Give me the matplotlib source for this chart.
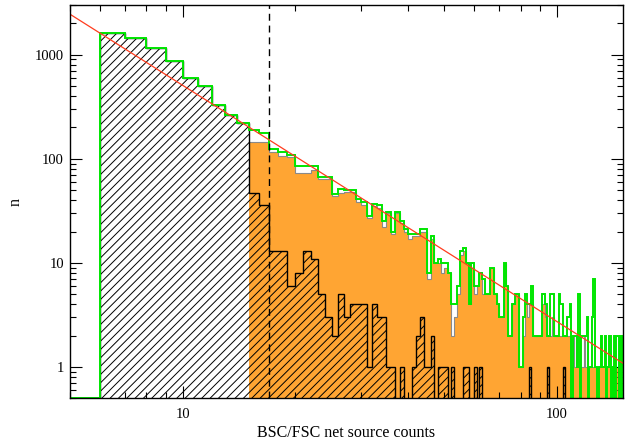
import numpy as np
import matplotlib
matplotlib.use('Agg')
import matplotlib.pyplot as plt
from matplotlib.ticker import FixedLocator, FixedFormatter, LogLocator, NullFormatter

plt.rcParams['font.family'] = ['Liberation Serif', 'DejaVu Serif']
plt.rcParams['hatch.linewidth'] = 0.7
plt.rcParams['hatch.color'] = 'black'

# ---------------- data (integer-width bins of net source counts) ----------------
total_first_bin = 5
total_counts = [
    0,
    1600, 1430, 1170, 860, 600, 500, 330, 261, 222,
    190, 177, 125, 116, 108, 85, 85, 85, 67, 67,
    46, 51, 50, 50, 41, 38, 28, 37, 36, 25,
    31, 20, 31, 25, 21, 19, 19, 19, 21, 21,
    8, 18, 10, 11, 10, 10, 8, 4, 4, 6,
    13, 14, 10, 4, 10, 6, 6, 8, 7, 5,
    5, 9, 9, 5, 4, 3, 3, 10, 6, 2,
    2, 4, 5, 5, 1, 1, 3, 5, 4, 4,
    6, 2, 2, 2, 2, 2, 5, 5, 4, 2,
    2, 5, 5, 2, 2, 2, 5, 4, 4, 2,
    2, 3, 3, 4, 0, 2, 2, 2, 1, 5,
    0, 2, 2, 2, 2, 3, 0, 1, 1, 3,
    7, 1, 1, 0, 1, 1, 2, 1, 1, 2,
    0, 1, 1, 2, 0, 1, 0, 2, 0, 2,
    2, 0, 2, 0, 2, 1,
]

orange_first_bin = 15
orange_counts = [
    145, 145, 115, 106, 104, 73, 73, 78, 64, 64,
    44, 47, 48, 48, 38, 36, 27, 35, 34, 22,
    30, 19, 30, 24, 20, 17, 18, 18, 20, 20,
    7, 17, 10, 10, 8, 9, 8, 2, 3, 5,
    12, 13, 10, 4, 9, 5, 6, 8, 5, 5,
    5, 9, 9, 5, 4, 3, 3, 10, 6, 2,
    2, 4, 5, 5, 1, 1, 2, 4, 3, 4,
    4, 2, 2, 2, 2, 2, 4, 4, 3, 2,
    2, 2, 3, 2, 2, 2, 2, 2, 2, 2,
    2, 2, 2, 2, 1, 2, 1, 2, 1, 1,
    1, 1, 1, 2, 1, 1, 1, 1, 1, 1,
    1, 1, 1, 1, 1, 1, 1, 1, 1, 1,
    1, 1, 1, 1, 1, 1, 1, 1, 1, 1,
    0, 0, 0, 0, 0, 0,
]

hatch_first_bin = 6
hatch_counts = [
    1600, 1430, 1170, 860, 600, 500, 330, 261, 222,
    47, 36, 13, 13, 6, 8, 13, 11, 5, 3,
    2, 5, 3, 4, 4, 4, 1, 4, 3, 3,
    1, 1, 0, 1, 0, 0, 1, 2, 3, 1,
    1, 2, 0, 1, 1, 1, 0, 1, 0, 0,
    0, 1, 1, 0, 0, 1, 0, 1, 0, 0,
    0, 0, 0, 0, 0, 0, 0, 0, 0, 0,
    0, 0, 0, 0, 0, 0, 0, 0, 0, 1,
    0, 0, 0, 0, 0, 0, 0, 0, 0, 1,
    0, 0, 0, 0, 0, 0, 0, 0, 0, 1,
]

fit_norm = 2445.0      # power law value at fit_x0
fit_x0 = 5.0
fit_index = -2.27
cut_value = 17.0

x_limits = (5, 150)
y_limits = (0.5, 3000)
x_major = [10, 100]
x_major_labels = ['10', '100']
y_major = [1, 10, 100, 1000]
y_major_labels = ['1', '10', '100', '1000']
x_label = 'BSC/FSC net source counts'
y_label = 'n'

# ---------------- figure ----------------
fig = plt.figure(figsize=(6.28, 4.40), dpi=100)
ax = fig.add_axes([0.1115, 0.0948, 0.8806, 0.8939])
ax.set_xscale('log')
ax.set_yscale('log')

floor = 1e-3


def bin_edges(first, n):
    return np.arange(first, first + n + 1, dtype=float)


orange = np.array(orange_counts, dtype=float)
orange_plot = np.where(orange > 0, orange, floor)
e_or = bin_edges(orange_first_bin, len(orange))
ax.stairs(orange_plot, e_or, fill=True, facecolor='#ffa533', edgecolor='none',
          baseline=floor, zorder=1)
ax.stairs(orange_plot, e_or, baseline=None, color='#8a8a8a', lw=0.8, zorder=1.5)

hatch = np.array(hatch_counts, dtype=float)
hatch_plot = np.where(hatch > 0, hatch, floor)
ax.stairs(hatch_plot, bin_edges(hatch_first_bin, len(hatch)), fill=True,
          facecolor='none', edgecolor='black', hatch='////', lw=1.0,
          baseline=floor, zorder=2)

total = np.array(total_counts, dtype=float)
total_plot = np.where(total > 0, total, y_limits[0])
ax.stairs(total_plot, bin_edges(total_first_bin, len(total)), baseline=None,
          color='#00e600', lw=1.4, zorder=3)

ax.axvline(cut_value, color='black', lw=1.0, dashes=(5, 3.5), zorder=3.5)

xs = np.geomspace(x_limits[0], x_limits[1], 50)
ax.plot(xs, fit_norm * (xs / fit_x0) ** fit_index, color='#ff3c1e', lw=0.9, zorder=4)

ax.set_xlim(*x_limits)
ax.set_ylim(*y_limits)

ax.xaxis.set_major_locator(FixedLocator(x_major))
ax.xaxis.set_major_formatter(FixedFormatter(x_major_labels))
ax.yaxis.set_major_locator(FixedLocator(y_major))
ax.yaxis.set_major_formatter(FixedFormatter(y_major_labels))
ax.xaxis.set_minor_locator(LogLocator(base=10, subs=np.arange(2, 10), numticks=20))
ax.yaxis.set_minor_locator(LogLocator(base=10, subs=np.arange(2, 10), numticks=20))
ax.xaxis.set_minor_formatter(NullFormatter())
ax.yaxis.set_minor_formatter(NullFormatter())

ax.tick_params(which='both', direction='in', top=True, right=True,
               width=0.8, colors='black', labelsize=10.5)
ax.tick_params(which='major', length=8.5)
ax.tick_params(which='minor', length=4.3)
ax.tick_params(axis='x', which='major', pad=7)
ax.tick_params(axis='y', which='major', pad=4.3)
for sp in ax.spines.values():
    sp.set_linewidth(1.0)
    sp.set_zorder(5)

ax.set_xlabel(x_label, fontsize=11.5, labelpad=3)
ax.set_ylabel(y_label, fontsize=11.5, labelpad=8)

fig.savefig('out.png', dpi=100)
